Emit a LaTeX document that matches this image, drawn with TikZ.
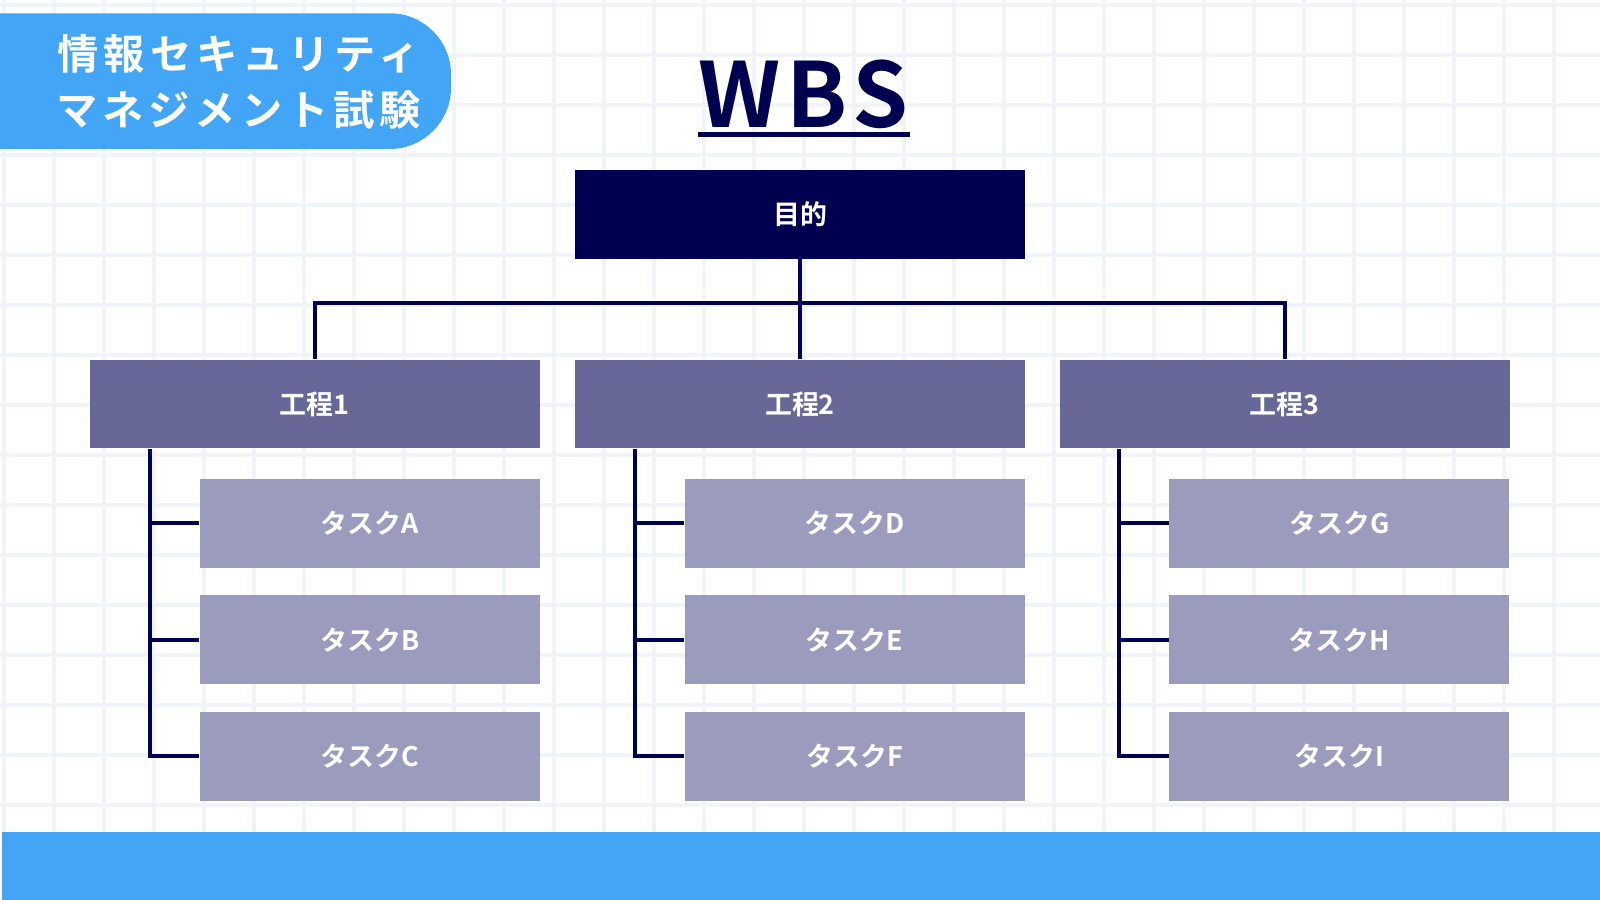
\documentclass[tikz,border=0pt]{standalone}
\usepackage{fontspec}
\setmainfont{Noto Sans CJK JP}[BoldFont={* Bold}]
\newfontfamily\cjkb{Noto Sans CJK JP Bold}
\newfontfamily\cjkw{Noto Sans CJK JP Bold}[LetterSpace=12]
\newfontfamily\cjkt{Noto Sans CJK JP Bold}[LetterSpace=7]
\usetikzlibrary{positioning}
\definecolor{navy}{HTML}{000050}
\definecolor{midp}{HTML}{676798}
\definecolor{lowp}{HTML}{9B9BBE}
\definecolor{skyb}{HTML}{42A5F5}
\definecolor{gridc}{HTML}{F1F4F9}
\tikzset{
  box/.style={draw=none,minimum height=0.87cm,inner sep=0pt,font=\cjkb\fontsize{7.5}{9}\selectfont,text=white},
  goal/.style={box,fill=navy,minimum width=4.4cm},
  phase/.style={box,fill=midp,minimum width=4.41cm},
  task/.style={box,fill=lowp,minimum width=3.33cm},
  link/.style={navy,line width=1.1pt}
}
\begin{document}
\begin{tikzpicture}[x=0.01cm,y=-0.01cm]
\useasboundingbox (0,0) rectangle (1568,882);
\fill[white] (0,0) rectangle (1568,882);
% grid
\foreach \gx in {4,53,...,1568} \draw[gridc,line width=1.2pt] (\gx,0) -- (\gx,815);
\foreach \gy in {5,54,...,815} \draw[gridc,line width=1.2pt] (0,\gy) -- (1568,\gy);
\fill[skyb] (2,815) rectangle (1568,882);
\fill[skyb,rounded corners=0.6cm] (-60,13) rectangle (442,146);
\node[text=white,align=center,font=\cjkw\fontsize{11.5}{15.5}\selectfont] (badge) at (234,80) {情報セキュリティ\\マネジメント試験};
% title
\node[text=navy,font=\cjkt\fontsize{25}{25}\selectfont] (title) at (787,92) {WBS};
\draw[navy,line width=1.4pt] (684,132) -- (892,132);
% boxes
\node[goal] (goal) at (784,210) {目的};
\node[phase] (s1) at (308.5,396) {工程1};
\node[phase] (s2) at (784,396) {工程2};
\node[phase] (s3) at (1259,396) {工程3};
\foreach \s/\cx/\rx/\a/\b/\c in {s1/362.5/147/A/B/C, s2/837.5/622/D/E/F, s3/1312.5/1097/G/H/I}{
  \node[task] (\s a) at (\cx,513) {タスク\a};
  \node[task] (\s b) at (\cx,627) {タスク\b};
  \node[task] (\s c) at (\cx,741) {タスク\c};
  \coordinate (\s r) at (\rx,440);
  \draw[link] (\s r) |- (\s c.west);
  \draw[link] (\s r |- \s a) -- (\s a.west);
  \draw[link] (\s r |- \s b) -- (\s b.west);
}
% connectors
\coordinate (bus) at (784,297);
\draw[link] (goal.south) -- (s2.north);
\draw[link] (s1.north) |- (bus) -| (s3.north);
\end{tikzpicture}
\end{document}
